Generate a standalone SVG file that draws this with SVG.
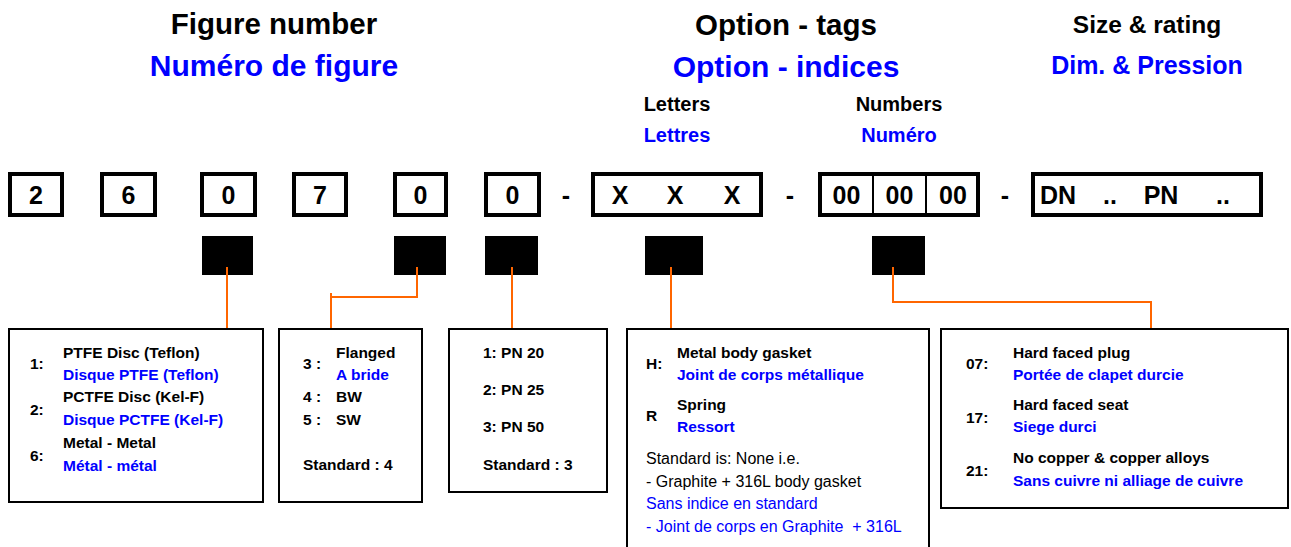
<svg xmlns="http://www.w3.org/2000/svg" width="1291" height="547" viewBox="0 0 1291 547">
<style>
text{font-family:"Liberation Sans",Arial,sans-serif;font-weight:bold;fill:#000}
.b{fill:#0000ff}
.h1{font-size:29.5px;text-anchor:middle}
.h2{font-size:30px;text-anchor:middle}
.h3{font-size:20px;text-anchor:middle}
.d{font-size:25px;text-anchor:middle}
.t{font-size:15.5px}
.r{font-weight:normal;font-size:16px}
.top{fill:#fff;stroke:#000;stroke-width:4}
.box{fill:#fff;stroke:#000;stroke-width:2}
.sq{fill:#000}
.c{fill:none;stroke:#ff6600;stroke-width:2}
</style>
<g id="headers">
<text class="h1" x="274" y="34">Figure number</text>
<text class="h2 b" x="274" y="76">Numéro de figure</text>
<text class="h1" x="786" y="35">Option - tags</text>
<text class="h2 b" x="786" y="77">Option - indices</text>
<text x="1147" y="33" style="font-size:24.5px;text-anchor:middle">Size &amp; rating</text>
<text class="b" x="1147" y="74" style="font-size:25px;text-anchor:middle">Dim. &amp; Pression</text>
<text class="h3" x="677" y="111">Letters</text>
<text class="h3 b" x="677" y="142">Lettres</text>
<text class="h3" x="899" y="111">Numbers</text>
<text class="h3 b" x="899" y="142">Numéro</text>
</g>
<g id="code">
<g id="d1"><rect class="top" x="10" y="174" width="52" height="41"/><text class="d" x="36" y="204">2</text></g>
<g id="d2"><rect class="top" x="102" y="174" width="53" height="41"/><text class="d" x="128.5" y="204">6</text></g>
<g id="d3"><rect class="top" x="202" y="174" width="53" height="41"/><text class="d" x="228.5" y="204">0</text></g>
<g id="d4"><rect class="top" x="294" y="174" width="52" height="41"/><text class="d" x="320" y="204">7</text></g>
<g id="d5"><rect class="top" x="395" y="174" width="51" height="41"/><text class="d" x="420.5" y="204">0</text></g>
<g id="d6"><rect class="top" x="486" y="174" width="53" height="41"/><text class="d" x="512.5" y="204">0</text></g>
<text class="d" x="566" y="204">-</text>
<g id="letters"><rect class="top" x="593" y="174" width="168" height="41"/>
<text class="d" x="620" y="204">X</text><text class="d" x="675" y="204">X</text><text class="d" x="732" y="204">X</text></g>
<text class="d" x="790" y="204">-</text>
<g id="numbers"><rect class="top" x="820" y="174" width="158" height="41"/>
<line x1="873" y1="174" x2="873" y2="215" stroke="#000" stroke-width="2"/>
<line x1="926" y1="174" x2="926" y2="215" stroke="#000" stroke-width="2"/>
<text class="d" x="846.5" y="204">00</text><text class="d" x="899.5" y="204">00</text><text class="d" x="953" y="204">00</text></g>
<text class="d" x="1005" y="204">-</text>
<g id="size"><rect class="top" x="1033" y="174" width="228" height="41"/>
<text class="d" x="1058" y="204">DN</text><text class="d" x="1110" y="204">..</text><text class="d" x="1161" y="204">PN</text><text class="d" x="1223" y="204">..</text></g>
</g>
<g id="markers">
<rect class="sq" x="202" y="236" width="51" height="39"/>
<rect class="sq" x="394" y="236" width="52" height="39"/>
<rect class="sq" x="485" y="236" width="53" height="39"/>
<rect class="sq" x="645" y="236" width="58" height="39"/>
<rect class="sq" x="872" y="236" width="53" height="39"/>
</g>
<g id="connectors">
<path class="c" d="M227 267V328"/>
<path class="c" d="M417 267V297H331"/>
<path class="c" d="M331 293V328"/>
<path class="c" d="M512 267V328"/>
<path class="c" d="M671 267V328"/>
<path class="c" d="M893 267V302H1151V328"/>
</g>
<g id="n1">
<rect class="box" x="9" y="329" width="254" height="173"/>
<text class="t" x="30" y="369">1:</text>
<text class="t" x="63" y="358">PTFE Disc (Teflon)</text>
<text class="t b" x="63" y="380">Disque PTFE (Teflon)</text>
<text class="t" x="63" y="402">PCTFE Disc (Kel-F)</text>
<text class="t" x="30" y="415">2:</text>
<text class="t b" x="63" y="425">Disque PCTFE (Kel-F)</text>
<text class="t" x="63" y="448">Metal - Metal</text>
<text class="t" x="30" y="461">6:</text>
<text class="t b" x="63" y="471">Métal - métal</text>
</g>
<g id="n2">
<rect class="box" x="279" y="329" width="143" height="173"/>
<text class="t" x="303" y="369">3 :</text>
<text class="t" x="336" y="358">Flanged</text>
<text class="t b" x="336" y="380">A bride</text>
<text class="t" x="303" y="402">4 :</text>
<text class="t" x="336" y="402">BW</text>
<text class="t" x="303" y="425">5 :</text>
<text class="t" x="336" y="425">SW</text>
<text class="t" x="303" y="470">Standard : 4</text>
</g>
<g id="n3">
<rect class="box" x="449" y="329" width="158" height="163"/>
<text class="t" x="483" y="358">1: PN 20</text>
<text class="t" x="483" y="395">2: PN 25</text>
<text class="t" x="483" y="432">3: PN 50</text>
<text class="t" x="483" y="470">Standard : 3</text>
</g>
<g id="n4">
<rect class="box" x="627" y="329" width="302" height="230"/>
<text class="t" x="646" y="369">H:</text>
<text class="t" x="677" y="358">Metal body gasket</text>
<text class="t b" x="677" y="380">Joint de corps métallique</text>
<text class="t" x="646" y="421">R</text>
<text class="t" x="677" y="410">Spring</text>
<text class="t b" x="677" y="432">Ressort</text>
<text class="r" x="646" y="464">Standard is: None i.e.</text>
<text class="r" x="646" y="487">- Graphite + 316L body gasket</text>
<text class="r b" x="646" y="509">Sans indice en standard</text>
<text class="r b" x="646" y="532" xml:space="preserve">- Joint de corps en Graphite  + 316L</text>
</g>
<g id="n5">
<rect class="box" x="941" y="329" width="347" height="179"/>
<text class="t" x="966" y="369">07:</text>
<text class="t" x="1013" y="358">Hard faced plug</text>
<text class="t b" x="1013" y="380">Portée de clapet durcie</text>
<text class="t" x="966" y="423">17:</text>
<text class="t" x="1013" y="410">Hard faced seat</text>
<text class="t b" x="1013" y="432">Siege durci</text>
<text class="t" x="966" y="476">21:</text>
<text class="t" x="1013" y="463">No copper &amp; copper alloys</text>
<text class="t b" x="1013" y="486">Sans cuivre ni alliage de cuivre</text>
</g>
</svg>
